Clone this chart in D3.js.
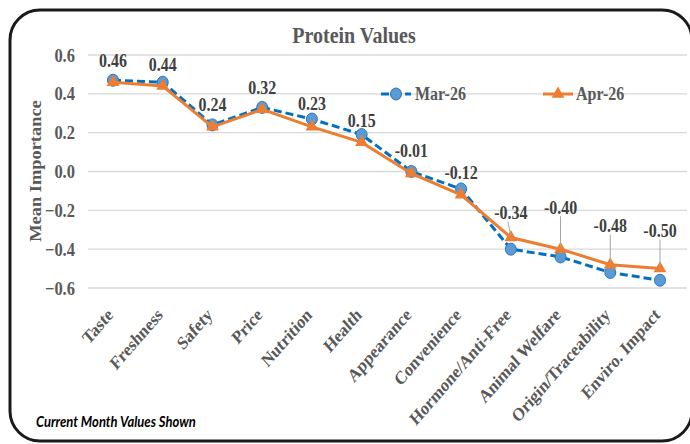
<!DOCTYPE html>
<html><head><meta charset="utf-8">
<script src="https://cdn.jsdelivr.net/npm/d3@7"></script>
<style>body{margin:0;background:#fff}svg{display:block}</style>
</head><body><svg id="c" width="690" height="444"></svg>
<script>
const categories = ["Taste","Freshness","Safety","Price","Nutrition","Health","Appearance","Convenience","Hormone/Anti-Free","Animal Welfare","Origin/Traceability","Enviro. Impact"];
const mar26 = [0.47,0.46,0.24,0.33,0.27,0.19,0.00,-0.09,-0.40,-0.44,-0.52,-0.56];
const apr26 = [0.46,0.44,0.23,0.32,0.23,0.15,-0.01,-0.12,-0.34,-0.40,-0.48,-0.50];
const aprLabels = ["0.46","0.44","0.24","0.32","0.23","0.15","-0.01","-0.12","-0.34","-0.40","-0.48","-0.50"];
const yTicks = [0.6,0.4,0.2,0.0,-0.2,-0.4,-0.6];
const seriesNames = ["Mar-26","Apr-26"];

const svg = d3.select("#c");
const serif = "'Liberation Serif','Times New Roman',serif";
const gray = "#595959";
const SY = 1.15; // vertical stretch of the reference's text

function stext(g, x0, y0, str, size, opts = {}) {
  const t = g.append("text")
    .attr("transform", `translate(${x0},${y0}) scale(1,${SY})` + (opts.rotate ? ` rotate(${opts.rotate})` : ""))
    .attr("text-anchor", opts.anchor || "start")
    .attr("font-family", opts.family || serif)
    .attr("font-weight", opts.weight || "bold")
    .attr("font-size", size)
    .attr("fill", opts.fill || gray)
    .text(str);
  if (opts.italic) t.attr("font-style", "italic");
  return t;
}

svg.append("rect").attr("x",10).attr("y",10).attr("width",682).attr("height",431)
  .attr("rx",30).attr("fill","#fff").attr("stroke","#1a1a1a").attr("stroke-width",3);

const x = d3.scalePoint().domain(categories).range([113,660]);
const y = d3.scaleLinear().domain([-0.6,0.6]).range([288,55]);

// gridlines
svg.append("g").selectAll("line").data(yTicks).join("line")
  .attr("x1",88).attr("x2",687).attr("y1",d=>y(d)).attr("y2",d=>y(d))
  .attr("stroke","#d9d9d9").attr("stroke-width",1.3);

// y tick labels
const fmt = d3.format(".1f");
const yg = svg.append("g");
yTicks.forEach(d => stext(yg, 75, y(d)+6.5, fmt(d), 16.5, {anchor:"end"}));

// x tick labels
const xg = svg.append("g");
categories.forEach(c => stext(xg, x(c)+1, 316, c, 16, {anchor:"end", rotate:-45}));

// title
stext(svg, 354, 43, "Protein Values", 20, {anchor:"middle"});

// y title
stext(svg, 41, 171, "Mean Importance", 16, {anchor:"middle", rotate:-90});

// footnote
stext(svg, 36, 427, "Current Month Values Shown", 13, {family:"Lato,'Open Sans',sans-serif", italic:true, fill:"#000"});

const blue = "#0070c0", blueFill = "#5b9bd5", orange = "#ed7d31";
const line = d3.line().x((d,i)=>x(categories[i])).y(d=>y(d));

// Mar-26
svg.append("path").datum(mar26).attr("d",line).attr("fill","none").attr("stroke",blue)
  .attr("stroke-width",3).attr("stroke-dasharray","8,4");
svg.append("g").selectAll("ellipse").data(mar26).join("ellipse")
  .attr("cx",(d,i)=>x(categories[i])).attr("cy",d=>y(d)).attr("rx",5.5).attr("ry",6)
  .attr("fill",blueFill).attr("stroke","#2e75b6").attr("stroke-width",1);

// Apr-26
svg.append("path").datum(apr26).attr("d",line).attr("fill","none").attr("stroke",orange).attr("stroke-width",3);
const tri = d3.symbol().type(d3.symbolTriangle).size(72);
svg.append("g").selectAll("path").data(apr26).join("path")
  .attr("d",tri).attr("transform",(d,i)=>`translate(${x(categories[i])},${y(d)})`).attr("fill",orange);

// data labels (pixel lift above the Apr-26 point)
const lift = [22,22,22,22,23,22,23,22,25,42,39,38];
const lg = svg.append("g");
apr26.forEach((v,i)=>{
  const cx = x(categories[i]), cy = y(v);
  const ly = cy - lift[i];
  if (lift[i] > 30) {
    lg.append("line").attr("x1",cx).attr("x2",cx).attr("y1",ly+9).attr("y2",cy-2)
      .attr("stroke","#a6a6a6").attr("stroke-width",1);
  } else if (lift[i] > 23) {
    lg.append("line").attr("x1",cx-3).attr("x2",cx).attr("y1",ly+9).attr("y2",cy-2)
      .attr("stroke","#a6a6a6").attr("stroke-width",1);
  }
  stext(lg, cx, ly+6.5, aprLabels[i], 16, {anchor:"middle", fill:"#404040"});
});

// legend
const leg = svg.append("g");
leg.append("line").attr("x1",381).attr("x2",411).attr("y1",94).attr("y2",94).attr("stroke",blue).attr("stroke-width",3).attr("stroke-dasharray","8,4");
leg.append("ellipse").attr("cx",396).attr("cy",94).attr("rx",5.5).attr("ry",6).attr("fill",blueFill).attr("stroke","#2e75b6");
stext(leg, 415, 100, seriesNames[0], 16);
leg.append("line").attr("x1",543).attr("x2",573).attr("y1",94).attr("y2",94).attr("stroke",orange).attr("stroke-width",3);
leg.append("path").attr("d",tri).attr("transform","translate(558,94)").attr("fill",orange);
stext(leg, 576, 100, seriesNames[1], 16);
</script></body></html>
